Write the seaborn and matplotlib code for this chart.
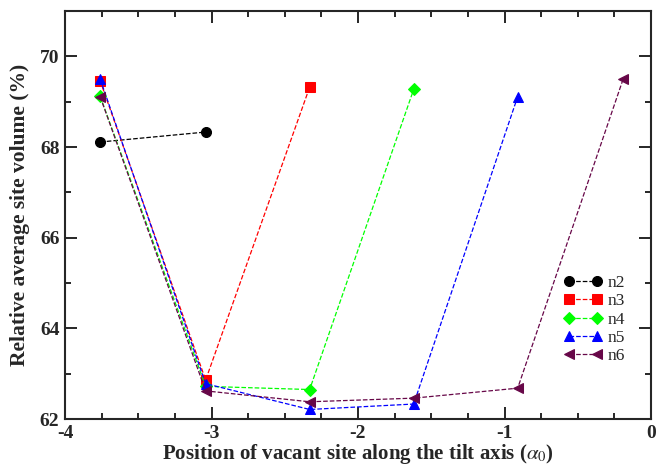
import matplotlib
matplotlib.use("Agg")
import matplotlib.pyplot as plt
import seaborn as sns
from matplotlib.ticker import MultipleLocator

sns.set_style("ticks")
plt.rcParams['font.family'] = ['Liberation Serif', 'DejaVu Serif']
plt.rcParams['mathtext.fontset'] = 'stix'
plt.rcParams['axes.unicode_minus'] = False

# data
n2_x = [-3.76, -3.04]
n2_y = [68.11, 68.33]
n3_x = [-3.76, -3.04, -2.33]
n3_y = [69.46, 62.86, 69.32]
n4_x = [-3.76, -3.04, -2.33, -1.62]
n4_y = [69.12, 62.72, 62.65, 69.27]
n5_x = [-3.76, -3.04, -2.33, -1.62, -0.91]
n5_y = [69.50, 62.78, 62.21, 62.33, 69.11]
n6_x = [-3.76, -3.04, -2.33, -1.62, -0.91, -0.19]
n6_y = [69.11, 62.62, 62.38, 62.46, 62.68, 69.50]

series = [
    ("n2", n2_x, n2_y, "#000000", "o"),
    ("n3", n3_x, n3_y, "#ff0000", "s"),
    ("n4", n4_x, n4_y, "#00ff00", "D"),
    ("n5", n5_x, n5_y, "#0000ff", "^"),
    ("n6", n6_x, n6_y, "#670748", "<"),
]

fig = plt.figure(figsize=(6.65, 4.66), dpi=100)
ax = fig.add_axes([65/665, 1-419/466, (651-65)/665, (419-11)/466])

for name, xs, ys, col, mk in series:
    ms = 6.3 if mk == "D" else 7.2
    sns.lineplot(x=xs, y=ys, ax=ax, color=col, marker=mk, markersize=ms,
                 markeredgecolor=col, linestyle="--", linewidth=0.9,
                 sort=False, label=name, estimator=None)

ax.set_xlim(-4, 0)
ax.set_ylim(62, 71)
ax.xaxis.set_major_locator(MultipleLocator(1))
ax.xaxis.set_minor_locator(MultipleLocator(0.25))
ax.yaxis.set_major_locator(MultipleLocator(2))
ax.yaxis.set_minor_locator(MultipleLocator(1))
ax.tick_params(which="both", direction="in", top=True, right=True, width=1.4)
ax.tick_params(which="major", length=8.5, labelsize=14, pad=4)
ax.tick_params(which="minor", length=4.5)
for lab in ax.get_xticklabels() + ax.get_yticklabels():
    lab.set_fontweight("bold")
for s in ax.spines.values():
    s.set_linewidth(1.5)

ax.set_xlabel(r"Position of vacant site along the tilt axis ($\alpha_0$)",
              fontsize=15, fontweight="bold", labelpad=0)
ax.set_ylabel("Relative average site volume (%)", fontsize=15.5,
              fontweight="bold", labelpad=7)

leg = ax.legend(loc="upper left", bbox_to_anchor=(564/665, 1-275/466),
                bbox_transform=fig.transFigure, frameon=False,
                fontsize=12.5, numpoints=2, handlelength=2.2, handletextpad=0.3,
                labelspacing=0.12, borderpad=0, borderaxespad=0)

fig.savefig("out.png", dpi=100)
